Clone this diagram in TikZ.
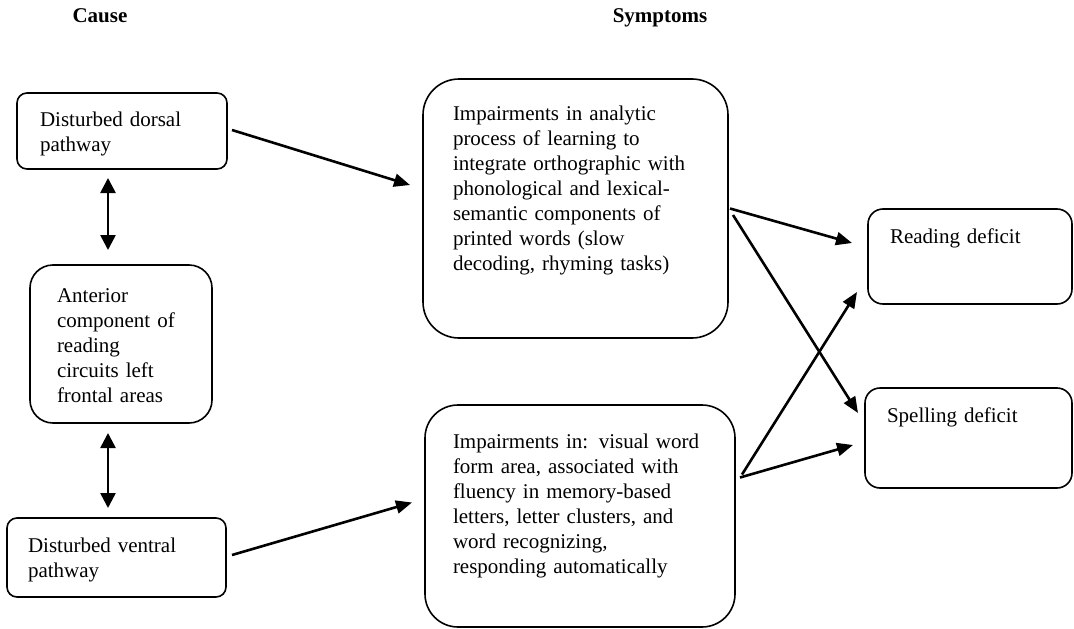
\documentclass[tikz,border=0pt]{standalone}
\usepackage{fontspec}
\setmainfont{Liberation Serif}
\usetikzlibrary{arrows.meta, calc}

\begin{document}
\begin{tikzpicture}[x=1pt, y=-1pt,
  box/.style={draw, line width=1.6pt, align=left, inner ysep=0pt, outer sep=0pt, anchor=north west, font=\fontsize{21}{25}\selectfont},
  heading/.style={anchor=base, font=\fontsize{21}{25}\selectfont\bfseries},
  arr/.style={line width=2.6pt, -{Triangle[length=16pt, width=13pt]}},
  dblarr/.style={line width=2.6pt, {Triangle[length=15pt, width=15pt]}-{Triangle[length=15pt, width=15pt]}}]
  \useasboundingbox (0,0) rectangle (1074,629);

  % Column headings
  \node[heading] (cause) at (100,23) {Cause};
  \node[heading] (symptoms) at (660,23) {Symptoms};

  % Cause boxes
  \node[box, rounded corners=10pt, inner xsep=23pt, text width=164pt, text height=33pt, text depth=43pt] (dorsal) at (17,93) {Disturbed dorsal\\pathway};
  \node[box, rounded corners=23pt, inner xsep=27pt, text width=128pt, text height=37pt, text depth=121pt] (anterior) at (30,265) {Anterior\\component of\\reading\\circuits left\\frontal areas};
  \node[box, rounded corners=10pt, inner xsep=21pt, text width=177pt, text height=34pt, text depth=45pt] (ventral) at (7,518) {Disturbed ventral\\pathway};

  % Symptom boxes
  \node[box, rounded corners=36pt, inner xsep=30pt, text width=245pt, text height=41pt, text depth=218pt] (analytic) at (423,79) {Impairments in analytic\\process of learning to\\integrate orthographic with\\phonological and lexical-\\semantic components of\\printed words (slow\\decoding, rhyming tasks)};
  \node[box, rounded corners=33pt, inner xsep=28pt, text width=254pt, text height=43pt, text depth=179pt] (visual) at (425,405) {Impairments in: visual word\\form area, associated with\\fluency in memory-based\\letters, letter clusters, and\\word recognizing,\\responding automatically};

  % Deficits
  \node[box, rounded corners=15pt, inner xsep=22pt, text width=160pt, text height=34pt, text depth=61pt] (reading) at (868,209) {Reading deficit};
  \node[box, rounded corners=15pt, inner xsep=22pt, text width=163pt, text height=34pt, text depth=66pt] (spelling) at (865,388) {Spelling deficit};

  % Connections
  \draw[dblarr] ($(dorsal.south)+(-14,9)$) -- ($(anterior.north)+(-13,-15)$);
  \draw[dblarr] ($(anterior.south)+(-13,10)$) -- ($(ventral.north)+(-8.5,-10)$);
  \draw[arr] ($(dorsal.east)+(5,-1)$) -- ($(analytic.west)+(-13,-23.5)$);
  \draw[arr] ($(ventral.east)+(6,-2.5)$) -- ($(visual.west)+(-13,-13.5)$);
  \draw[arr] ($(analytic.east)+(2,0)$) -- ($(reading.west)+(-16,-13.5)$);
  \draw[arr] ($(analytic.east)+(5,6.5)$) -- ($(spelling.west)+(-7,-25)$);
  \draw[arr] ($(visual.east)+(7,-41.5)$) -- ($(reading.west)+(-11,35.5)$);
  \draw[arr] ($(visual.east)+(5,-38.5)$) -- ($(spelling.west)+(-12,7)$);
\end{tikzpicture}
\end{document}
